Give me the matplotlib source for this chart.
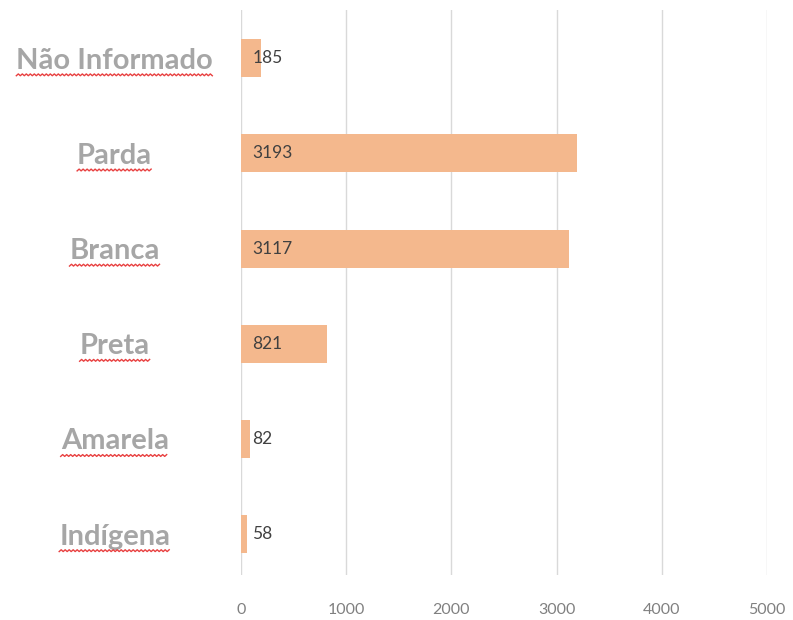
import matplotlib.pyplot as plt
import numpy as np

# dados (de baixo para cima)
categorias = ['Indígena', 'Amarela', 'Preta', 'Branca', 'Parda', 'Não Informado']
valores = [58, 82, 821, 3117, 3193, 185]
ticks_x = [0, 1000, 2000, 3000, 4000, 5000]

plt.rcParams['font.family'] = ['Lato', 'DejaVu Sans']

fig = plt.figure(figsize=(7.93, 6.2), dpi=100)
ax = fig.add_axes([0.304, 0.0726, 0.663, 0.911])

y = np.arange(len(categorias))
ax.barh(y, valores, height=0.4, color='#F4B88D', zorder=2)

for yi, v in zip(y, valores):
    ax.annotate(str(v), (0, yi), xytext=(8, 0), textcoords='offset points',
                ha='left', va='center', fontsize=12.5, color='#404040', zorder=3)

ax.set_xlim(0, 5000)
ax.set_ylim(-0.43, 5.505)
ax.set_xticks(ticks_x)
ax.set_xticklabels([str(t) for t in ticks_x], fontsize=11.5, color='#808080')
ax.set_yticks(y)
ax.set_yticklabels(categorias, fontsize=21, fontweight='bold', color='#A6A6A6', ha='center')
ax.tick_params(axis='y', length=0, pad=91)
ax.tick_params(axis='x', length=0, pad=20)
ax.grid(axis='x', color='#D9D9D9', linewidth=1, zorder=0)
for s in ax.spines.values():
    s.set_visible(False)

# sublinhado ondulado vermelho (corretor ortográfico)
fig.canvas.draw()
r = fig.canvas.get_renderer()
for lbl in ax.get_yticklabels():
    bb = lbl.get_window_extent(r)
    xs = np.arange(bb.x0, bb.x1, 2.0)
    ys = bb.y0 - 2 + np.where(np.arange(len(xs)) % 2 == 0, 0, 1.8)
    fig.add_artist(plt.Line2D(xs / fig.bbox.width, ys / fig.bbox.height,
                              color='#E84040', linewidth=1.0))

fig.savefig('out.png', dpi=100)
